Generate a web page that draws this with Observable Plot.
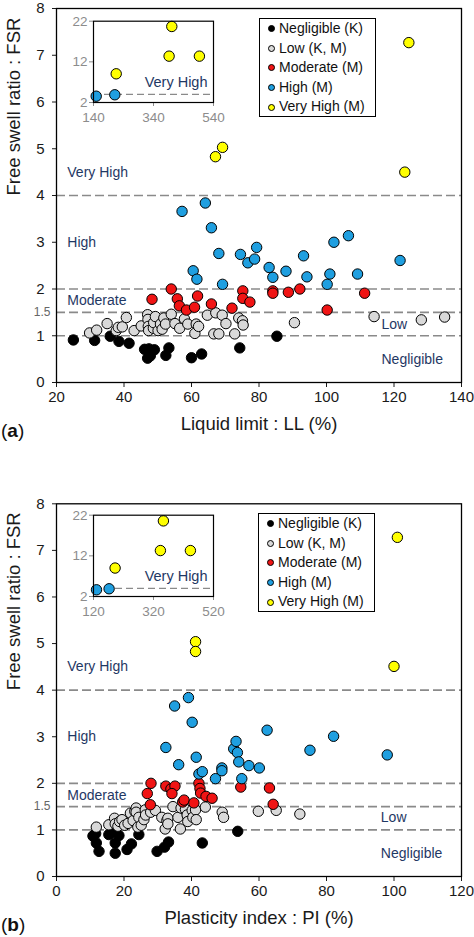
<!DOCTYPE html>
<html><head><meta charset="utf-8">
<script src="https://cdn.jsdelivr.net/npm/d3@7"></script>
<script src="https://cdn.jsdelivr.net/npm/@observablehq/plot@0.6"></script>
<style>
body{margin:0;background:#fff;font-family:"Liberation Sans",Arial,sans-serif;}
#wrap{position:relative;width:474px;height:937px;overflow:hidden;background:#fff;}
.panel{position:absolute;left:0;width:474px;}
.legend{position:absolute;border:1px solid #000;background:#fff;box-sizing:border-box;width:117px;height:99px;font-size:14px;color:#111;}
.legend .row{height:19.6px;line-height:19.6px;position:relative;padding-left:19px;white-space:nowrap;}
.legend .mk{position:absolute;left:8px;top:6.2px;width:7px;height:7px;border:1px solid #000;border-radius:50%;box-sizing:border-box;}
.tag{position:absolute;font-size:19px;line-height:22px;color:#111;}
</style>
</head><body>
<div id="wrap"></div>
<script>
// ---------- data (x, FSR) ----------
// Panel (a): liquid limit LL (%)
const aNegligible = [[25.0,0.91],[31.3,0.90],[35.9,0.99],[38.5,0.88],[41.5,0.84],[46.1,0.71],[47.0,0.52],[47.8,0.57],[47.4,0.72],[49.0,0.70],[52.4,0.58],[53.3,0.74],[60.0,0.53],[63.0,0.61],[74.3,0.74],[85.3,0.99]];
const aLow = [[29.8,1.06],[31.9,1.12],[35.0,1.26],[37.7,1.11],[38.3,1.18],[39.5,1.19],[40.7,1.39],[43.0,1.11],[45.1,1.21],[47.0,1.45],[47.1,1.35],[47.2,1.20],[47.3,1.11],[48.7,1.16],[48.8,1.28],[49.3,1.41],[50.1,1.11],[50.8,1.25],[51.3,1.14],[51.8,1.38],[52.3,1.25],[54.0,1.46],[55.1,1.26],[56.5,1.16],[57.9,1.36],[58.9,1.25],[61.0,1.05],[61.4,1.25],[62.1,1.20],[64.7,1.44],[66.6,1.04],[67.2,1.49],[68.1,1.04],[69.1,1.44],[70.2,1.26],[72.8,1.04],[74.0,1.38],[75.1,1.32],[75.3,1.23],[90.5,1.28],[114.1,1.41],[128.1,1.34],[135.0,1.40]];
const aModerate = [[48.3,1.78],[54.0,2.00],[55.8,1.79],[56.4,1.64],[58.5,1.55],[60.9,1.61],[61.8,1.85],[65.9,1.68],[72.0,1.59],[75.2,1.96],[75.2,1.80],[77.3,1.72],[84.1,1.96],[84.1,1.91],[88.7,1.93],[92.1,2.00],[100.2,1.55],[111.3,1.91]];
const aHigh = [[57.2,3.66],[64.1,3.84],[65.9,3.31],[68.1,2.76],[60.5,2.39],[61.6,2.21],[69.2,2.10],[74.5,2.74],[76.7,2.56],[78.7,2.64],[79.3,2.89],[83.0,2.46],[84.1,2.25],[88.0,2.38],[93.2,2.71],[94.2,2.26],[100.2,2.10],[101.0,2.32],[102.2,3.00],[106.5,3.14],[109.2,2.32],[121.8,2.61],[149,3.55],[211,3.90]];
const aVeryHigh = [[67.1,4.83],[69.2,5.03],[124.4,7.27],[123.2,4.50],[215.7,9.06],[392,13.4],[493,13.4],[401,20.7]];

// Panel (b): plasticity index PI (%)
const bNegligible = [[10.8,0.87],[11.6,0.92],[11.8,0.72],[12.6,0.54],[15.5,0.90],[16.5,0.95],[17.4,0.72],[17.4,0.50],[18.5,0.88],[20.9,0.58],[22.2,0.70],[24.4,0.90],[29.8,0.54],[32.0,0.63],[33.2,0.74],[43.2,0.72],[53.7,0.97]];
const bLow = [[11.8,1.06],[15.5,1.11],[17.2,1.25],[17.4,1.13],[18.2,1.08],[18.7,1.18],[19.4,1.22],[20.2,1.10],[21.2,1.14],[21.9,1.36],[22.7,1.20],[23.2,1.40],[23.6,1.47],[23.6,1.38],[24.1,1.06],[24.4,1.27],[25.1,1.10],[25.9,1.22],[26.3,1.43],[26.4,1.32],[27.9,1.38],[29.3,1.42],[31.2,1.27],[32.2,1.02],[32.7,1.20],[33.0,1.25],[33.0,1.13],[34.5,1.50],[36.0,1.27],[36.7,1.02],[36.9,1.47],[38.2,1.44],[38.7,1.32],[38.9,1.18],[40.2,1.42],[40.4,1.27],[41.2,1.43],[41.4,1.22],[44.1,1.49],[49.1,1.38],[49.5,1.27],[59.8,1.40],[65.1,1.42],[72.1,1.34]];
const bModerate = [[26.9,1.78],[28.0,2.00],[27.8,1.54],[32.4,1.94],[33.9,1.88],[35.1,1.94],[34.2,1.78],[37.4,1.60],[37.8,1.64],[40.7,1.58],[42.2,2.00],[42.5,1.89],[42.7,1.79],[44.3,1.72],[46.1,1.68],[54.6,1.92],[63.1,1.90],[64.2,1.55]];
const bHigh = [[35.0,3.66],[39.1,3.84],[40.2,3.31],[32.4,2.77],[36.2,2.40],[41.4,2.56],[42.2,2.20],[43.2,2.25],[47.1,2.10],[49.0,2.33],[49.0,2.27],[52.5,2.74],[53.2,2.90],[53.6,2.66],[54.0,2.46],[54.9,2.10],[57.0,2.38],[60.1,2.33],[62.4,3.14],[75.1,2.71],[82.1,3.01],[98.0,2.61],[130,3.65],[172,3.90]];
const bVeryHigh = [[41.2,5.04],[41.2,4.83],[101.0,7.28],[100.0,4.51],[192,9.0],[343,13.3],[443,13.3],[353,20.6]];

const classNames = ["Negligible (K)","Low (K, M)","Moderate (M)","High (M)","Very High (M)"];
const classColors = ["#000000","#d9d9d9","#f01414","#1f9fe0","#ffff00"];
const fsrBounds = [1, 1.5, 2, 4];
const fsrTicks = [0,1,2,3,4,5,6,7,8];
const ticksA = [20,40,60,80,100,120,140];
const ticksB = [0,20,40,60,80,100,120];
const insetTicksA = [140,340,540];
const insetTicksB = [120,320,520];
const insetYTicks = [2,12,22];

const FONT = '"Liberation Sans", Arial, sans-serif';
const NAVY = "#1f3864";

function toRows(lists){
  return lists.map((list,i)=>list.map(([x,y])=>({x,y,c:i})));
}

function mainPlot(o){
  const groups = toRows(o.series);
  const inMain = d => d.x>=o.xDomain[0] && d.x<=o.xDomain[1] && d.y>=0 && d.y<=8;
  return Plot.plot({
    width:474, height:o.height, marginLeft:56, marginRight:13, marginTop:o.marginTop, marginBottom:o.marginBottom,
    x:{domain:o.xDomain}, y:{domain:[0,8]},
    style:{fontFamily:FONT, fontSize:"15px", background:"none", overflow:"visible", color:"#1a1a1a"},
    marks:[
      Plot.ruleY(fsrBounds,{stroke:"#8a8a8a", strokeDasharray:"9,4", strokeWidth:1.6}),
      Plot.axisX({ticks:o.xTicks, tickSize:5, tickPadding:4, fontSize:15, label:null}),
      Plot.axisY({ticks:fsrTicks, tickSize:4, tickPadding:8, fontSize:15, label:null}),
      Plot.axisY({ticks:[1.5], tickSize:0, tickPadding:6, fontSize:12, label:null, color:"#666", tickFormat:d=>String(d)}),
      ...groups.map((g,i)=>Plot.dot(g.filter(inMain),{x:"x", y:"y", r:5.2, fill:classColors[i], stroke:"#000", strokeWidth:1})),
      Plot.text(o.regions,{x:"x", y:"y", text:"t", textAnchor:"start", fill:NAVY, fontSize:14}),
      Plot.text([o.xLabel],{text:d=>d, frameAnchor:"bottom", dy:47, fontSize:18.5}),
      Plot.text(["Free swell ratio : FSR"],{text:d=>d, frameAnchor:"left", rotate:-90, dx:-42, fontSize:18.5}),
      Plot.frame({stroke:"#000", strokeWidth:1.3})
    ]
  });
}

function insetPlot(o){
  const groups = toRows(o.series);
  const inInset = d => d.x>=o.xDomain[0] && d.x<=o.xDomain[1] && d.y>=2 && d.y<=22 && (d.x>o.mainMax || d.y>8);
  return Plot.plot({
    width:165, height:114, marginLeft:33, marginRight:12, marginTop:10.7, marginBottom:22,
    x:{domain:o.xDomain}, y:{domain:[2,22]},
    style:{fontFamily:FONT, fontSize:"13.5px", background:"none", overflow:"visible"},
    marks:[
      Plot.ruleY([4],{stroke:"#8a8a8a", strokeDasharray:"7,4", strokeWidth:1.4}),
      Plot.axisX({ticks:o.xTicks, tickSize:4, tickPadding:6, fontSize:13.5, color:"#8c8c8c", label:null}),
      Plot.axisY({ticks:insetYTicks, tickSize:4, tickPadding:2, fontSize:13.5, color:"#8c8c8c", label:null}),
      ...groups.map((g,i)=>Plot.dot(g.filter(inInset),{x:"x", y:"y", r:5.2, fill:classColors[i], stroke:"#000", strokeWidth:1})),
      Plot.text(["Very High"],{text:d=>d, x:o.labelX, y:7, textAnchor:"end", fill:NAVY, fontSize:14.5}),
      Plot.frame({stroke:"#000", strokeWidth:1.2})
    ]
  });
}

function legend(){
  const div = document.createElement("div");
  div.className = "legend";
  classNames.forEach((n,i)=>{
    const r = document.createElement("div"); r.className="row";
    const m = document.createElement("span"); m.className="mk"; m.style.background = classColors[i];
    r.appendChild(m); r.appendChild(document.createTextNode(n));
    div.appendChild(r);
  });
  return div;
}

const wrap = document.getElementById("wrap");

function panel(top, height, cfg){
  const p = document.createElement("div");
  p.className="panel"; p.style.top = top+"px"; p.style.height = height+"px";
  p.appendChild(mainPlot(cfg.main));
  const ins = insetPlot(cfg.inset);
  ins.style.position="absolute"; ins.style.left="60px"; ins.style.top = cfg.insetTop+"px";
  p.appendChild(ins);
  const lg = legend(); lg.style.left = cfg.legendLeft+"px"; lg.style.top = cfg.legendTop+"px";
  p.appendChild(lg);
  const tag = document.createElement("div"); tag.className="tag";
  tag.innerHTML = "(<b>"+cfg.tag+"</b>)"; tag.style.left="1px"; tag.style.top = cfg.tagTop+"px";
  p.appendChild(tag);
  wrap.appendChild(p);
}

panel(0, 468, {
  main:{series:[aNegligible,aLow,aModerate,aHigh,aVeryHigh], xDomain:[20,140], xTicks:ticksA, height:468, marginTop:8, marginBottom:86,
    xLabel:"Liquid limit : LL (%)",
    regions:[{x:23.2,y:4.5,t:"Very High"},{x:23.2,y:3.0,t:"High"},{x:23.2,y:1.75,t:"Moderate"},{x:116.3,y:1.25,t:"Low"},{x:116.3,y:0.5,t:"Negligible"}]},
  inset:{series:[aNegligible,aLow,aModerate,aHigh,aVeryHigh], xDomain:[140,540], xTicks:insetTicksA, mainMax:140, labelX:520},
  insetTop:10, legendLeft:259, legendTop:18, tag:"a", tagTop:420
});

panel(468, 469, {
  main:{series:[bNegligible,bLow,bModerate,bHigh,bVeryHigh], xDomain:[0,120], xTicks:ticksB, height:469, marginTop:35.3, marginBottom:61,
    xLabel:"Plasticity index : PI (%)",
    regions:[{x:3.2,y:4.5,t:"Very High"},{x:3.2,y:3.0,t:"High"},{x:3.2,y:1.74,t:"Moderate"},{x:96.1,y:1.26,t:"Low"},{x:96.1,y:0.5,t:"Negligible"}]},
  inset:{series:[bNegligible,bLow,bModerate,bHigh,bVeryHigh], xDomain:[120,520], xTicks:insetTicksB, mainMax:120, labelX:500},
  insetTop:36.3, legendLeft:258, legendTop:45, tag:"b", tagTop:446
});
</script>
</body></html>
